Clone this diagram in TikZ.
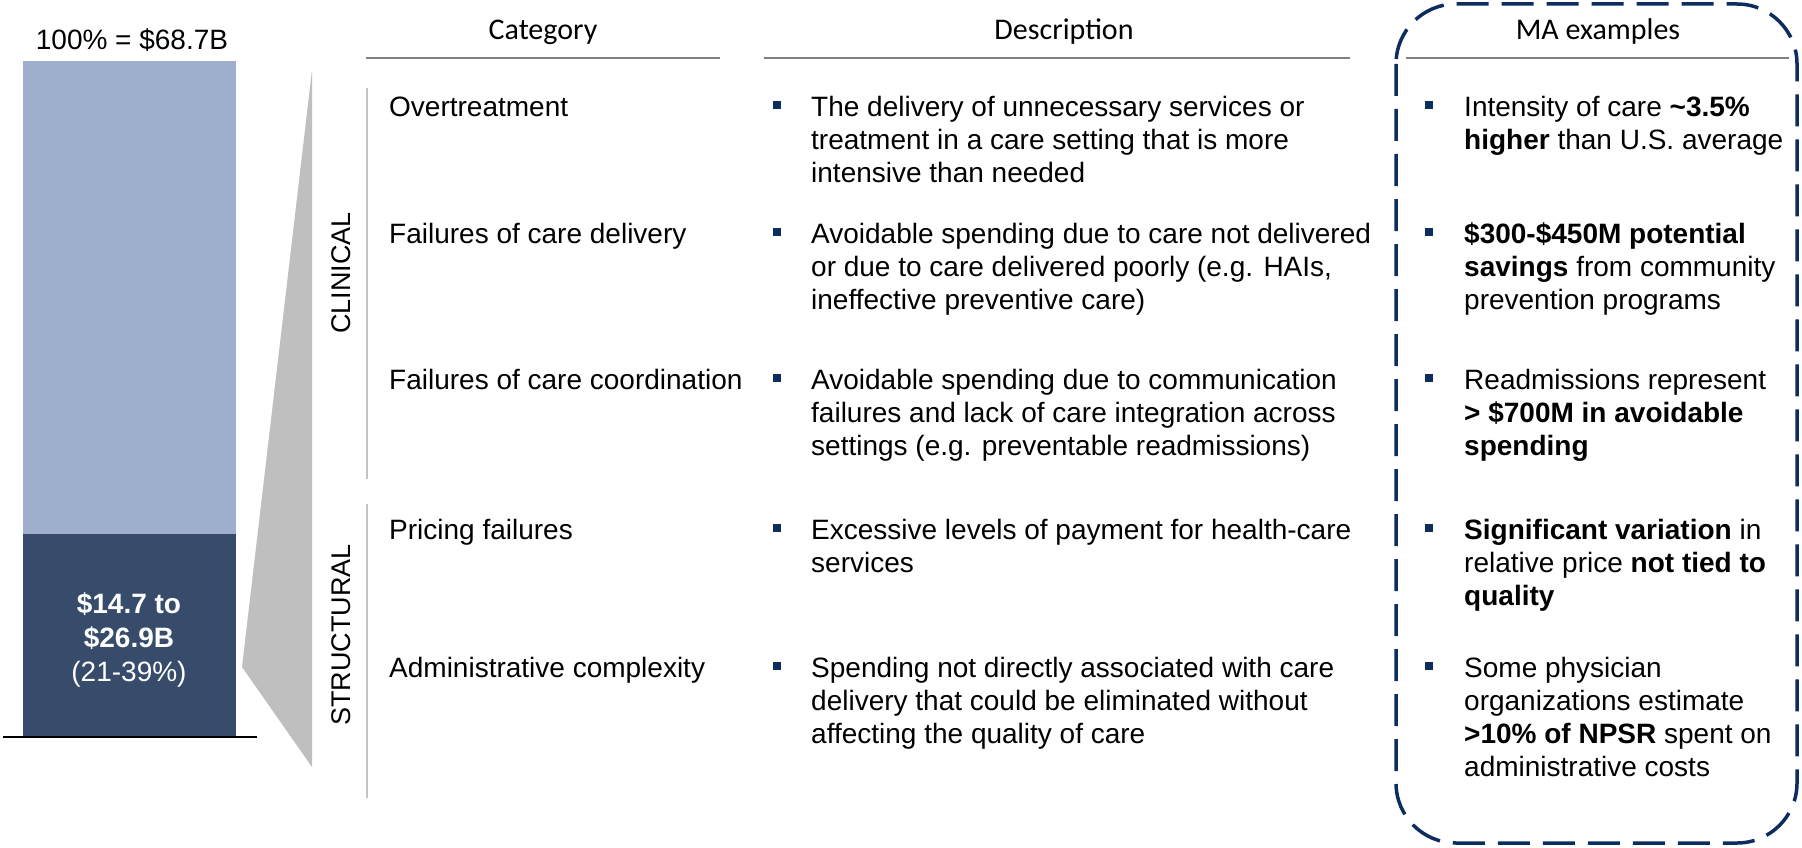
\documentclass[tikz,border=0pt]{standalone}
\usepackage{fontspec}
\setmainfont{Liberation Sans}
\newfontfamily\hdrfont{Carlito}
\definecolor{barlight}{HTML}{9DAFCC}
\definecolor{bardark}{HTML}{374C6B}
\definecolor{trapgrey}{HTML}{BFBFBF}
\definecolor{sepgrey}{HTML}{C4C4C4}
\definecolor{hdrline}{HTML}{808080}
\definecolor{navy}{HTML}{0D2D5E}
\newcommand\bodyfs{\fontsize{28}{33}\selectfont}
\tikzset{
  blk/.style={anchor=north west, inner sep=0pt, align=left, font=\bodyfs},
  hdr/.style={anchor=base, inner sep=0pt, font=\hdrfont\fontsize{30}{36}\selectfont},
  hdrrule/.style={draw=hdrline, line width=2.5pt},
  seprule/.style={draw=sepgrey, line width=2pt},
  bullet/.style={fill=navy},
  side/.style={inner sep=0pt, rotate=90, font=\fontsize{27}{32}\selectfont}
}
\newcommand\bul[2]{\fill[bullet] (#1-4,#2-15) rectangle (#1+4,#2-7);}
\begin{document}
\begin{tikzpicture}[x=1pt,y=-1pt]
\useasboundingbox (0,0) rectangle (1802,848);
% left bar
\fill[barlight] (23,61) rectangle (236,534);
\fill[bardark] (23,534) rectangle (236,736);
\draw[black, line width=2pt] (3,737) -- (257,737);
\node[anchor=base, inner sep=0pt, font=\bodyfs] (total) at (132,50) {100\% = \$68.7B};
\node[anchor=north, inner sep=0pt, align=center, text=white, font=\fontsize{28}{34}\selectfont] (share) at (129,613-23.8)
  {\strut\textbf{\$14.7 to}\\\textbf{\$26.9B}\\(21-39\%)};
% trapezoid
\fill[trapgrey] (312,70) -- (242,667) -- (312,767) -- cycle;
% side labels and separators
\node[side] (clin) at (341,273) {CLINICAL};
\node[side] (struct) at (341,635) {STRUCTURAL};
\draw[seprule] (367,88) -- (367,479);
\draw[seprule] (367,504) -- (367,798);
% headers
\node[hdr] (hcat) at (543,40) {Category};
\node[hdr] (hdesc) at (1064,40) {Description};
\node[hdr] (hma) at (1598,40) {MA examples};
\draw[hdrrule] (366,58) -- (720,58);
\draw[hdrrule] (764,58) -- (1350,58);
\draw[hdrrule] (1406,58) -- (1789,58);
% dashed box
\draw[navy, line width=3.5pt, dash pattern=on 32pt off 13pt, rounded corners=60pt] (1396,4) rectangle (1797,843);
% categories
\node[blk] (c1) at (389,116-23.1) {\strut Overtreatment};
\node[blk] (c2) at (389,243-23.1) {\strut Failures of care delivery};
\node[blk] (c3) at (389,389-23.1) {\strut Failures of care coordination};
\node[blk] (c4) at (389,539-23.1) {\strut Pricing failures};
\node[blk] (c5) at (389,677-23.1) {\strut Administrative complexity};
% descriptions
\bul{777}{116}
\node[blk] (d1) at (811,116-23.1) {\strut The delivery of unnecessary services or\\treatment in a care setting that is more\\intensive than needed};
\bul{777}{243}
\node[blk] (d2) at (811,243-23.1) {\strut Avoidable spending due to care not delivered\\or due to care delivered poorly (e.g. HAIs,\\ineffective preventive care)};
\bul{777}{389}
\node[blk] (d3) at (811,389-23.1) {\strut Avoidable spending due to communication\\failures and lack of care integration across\\settings (e.g. preventable readmissions)};
\bul{777}{539}
\node[blk] (d4) at (811,539-23.1) {\strut Excessive levels of payment for health-care\\services};
\bul{777}{677}
\node[blk] (d5) at (811,677-23.1) {\strut Spending not directly associated with care\\delivery that could be eliminated without\\affecting the quality of care};
% MA examples
\bul{1429}{116}
\node[blk] (m1) at (1464,116-23.1) {\strut Intensity of care \textbf{\textasciitilde3.5\%}\\\textbf{higher} than U.S. average};
\bul{1429}{243}
\node[blk] (m2) at (1464,243-23.1) {\strut\textbf{\$300-\$450M potential}\\\textbf{savings} from community\\prevention programs};
\bul{1429}{389}
\node[blk] (m3) at (1464,389-23.1) {\strut Readmissions represent\\\textbf{> \$700M in avoidable}\\\textbf{spending}};
\bul{1429}{539}
\node[blk] (m4) at (1464,539-23.1) {\strut\textbf{Significant variation} in\\relative price \textbf{not tied to}\\\textbf{quality}};
\bul{1429}{677}
\node[blk] (m5) at (1464,677-23.1) {\strut Some physician\\organizations estimate\\\textbf{>10\% of NPSR} spent on\\administrative costs};
\end{tikzpicture}
\end{document}
